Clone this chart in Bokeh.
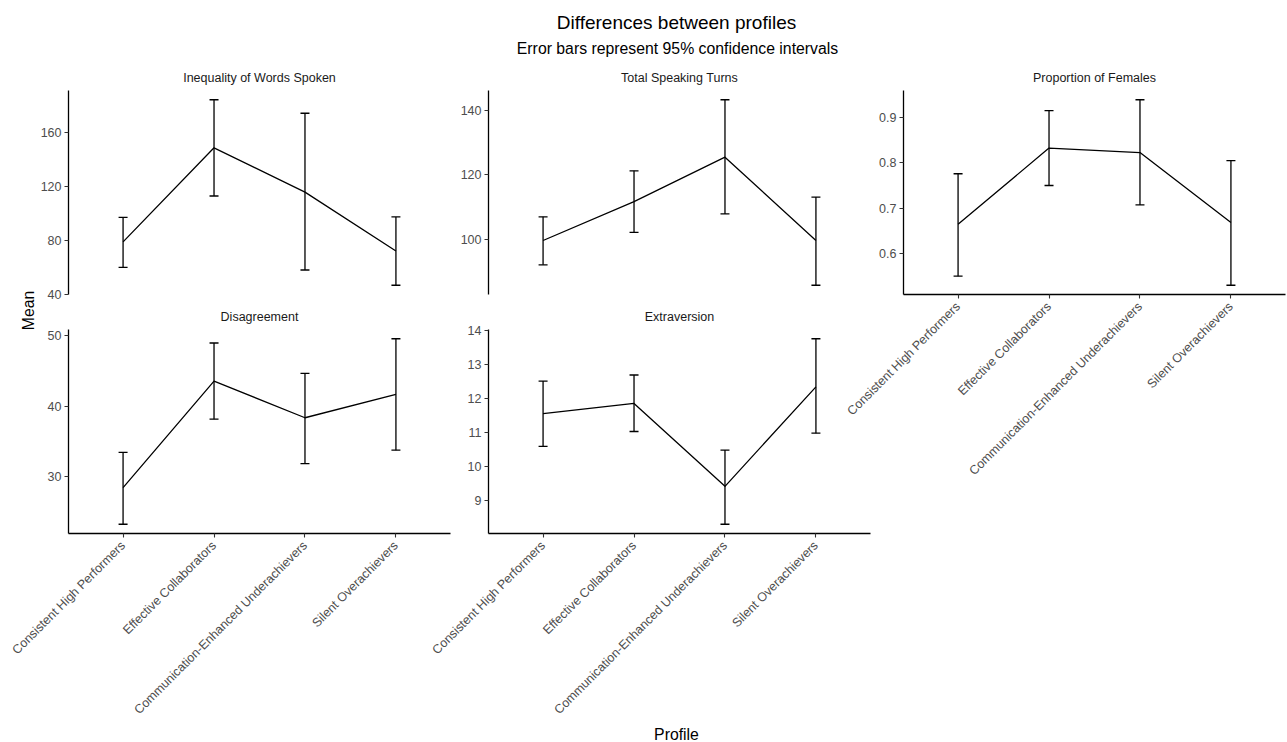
import math
from bokeh.plotting import figure
from bokeh.models import (ColumnDataSource, Whisker, TeeHead, FactorRange, Range1d,
                          FixedTicker, Label)
from bokeh.embed import file_html
from bokeh.resources import INLINE

# ---------------- data ----------------
profiles = ["Consistent High Performers", "Effective Collaborators",
            "Communication-Enhanced Underachievers", "Silent Overachievers"]

panel_titles = ["Inequality of Words Spoken", "Total Speaking Turns", "Proportion of Females",
                "Disagreement", "Extraversion"]

ineq_mean = [78.7, 148.4, 115.6, 71.9]
ineq_lower = [59.8, 112.7, 57.9, 46.6]
ineq_upper = [96.8, 184.0, 174.0, 97.2]
ineq_ticks = [40, 80, 120, 160]

turns_mean = [99.8, 111.8, 125.5, 99.8]
turns_lower = [92.3, 102.3, 108.0, 86.0]
turns_upper = [107.1, 121.3, 143.2, 113.2]
turns_ticks = [100, 120, 140]

fem_mean = [0.664, 0.833, 0.823, 0.668]
fem_lower = [0.549, 0.750, 0.707, 0.529]
fem_upper = [0.776, 0.916, 0.940, 0.805]
fem_ticks = [0.6, 0.7, 0.8, 0.9]

dis_mean = [28.5, 43.6, 38.4, 41.7]
dis_lower = [23.3, 38.2, 31.9, 33.8]
dis_upper = [33.5, 49.0, 44.7, 49.6]
dis_ticks = [30, 40, 50]

ext_mean = [11.56, 11.86, 9.41, 12.35]
ext_lower = [10.59, 11.03, 8.29, 10.98]
ext_upper = [12.52, 12.70, 10.48, 13.77]
ext_ticks = [9, 10, 11, 12, 13, 14]

main_title = "Differences between profiles"
sub_title = "Error bars represent 95% confidence intervals"
y_title = "Mean"
x_title = "Profile"

# ---------------- layout ----------------
W, H = 1287, 742
FONT = "Liberation Sans"
LW = 1.3
POS = {"position": "absolute", "left": "0px", "top": "0px"}

# frame geometry (left, top, width, height) in canvas pixels
geoms = [
    (68, 90, 382, 204),
    (488, 90, 382, 204),
    (903, 90, 382, 204),
    (68, 329, 382, 204),
    (488, 329, 382, 204),
]
STRIP_GAP = 13  # distance from strip text centre to the panel top


def panel(mean, lower, upper, ticks, geom, show_x):
    x0, y0, fw, fh = geom
    lo, hi = min(lower), max(upper)
    pad = 0.05 * (hi - lo)
    p = figure(width=W, height=H, output_backend="svg", toolbar_location=None,
               x_range=FactorRange(factors=profiles, range_padding=0.1,
                                   range_padding_units="absolute"),
               y_range=Range1d(lo - pad, hi + pad),
               min_border_left=x0, min_border_top=y0,
               min_border_right=W - x0 - fw, min_border_bottom=H - y0 - fh,
               border_fill_color=None, background_fill_color=None,
               outline_line_color=None, styles=POS)
    p.grid.visible = False
    src = ColumnDataSource(dict(profile=profiles, mean=mean, lower=lower, upper=upper))
    p.add_layout(Whisker(source=src, base="profile", upper="upper", lower="lower",
                         line_color="black", line_width=LW,
                         upper_head=TeeHead(size=9, line_color="black", line_width=LW),
                         lower_head=TeeHead(size=9, line_color="black", line_width=LW)))
    p.line(x="profile", y="mean", source=src, line_color="black", line_width=LW,
           line_join="round")

    ya = p.yaxis[0]
    ya.ticker = FixedTicker(ticks=ticks)
    ya.minor_tick_line_color = None
    ya.major_tick_in = 0
    ya.major_tick_out = 4
    ya.major_tick_line_color = "#333333"
    ya.major_tick_line_width = 1.1
    ya.axis_line_color = "black"
    ya.axis_line_width = LW
    ya.major_label_text_font = FONT
    ya.major_label_text_font_size = "12.5px"
    ya.major_label_text_color = "#4D4D4D"
    ya.major_label_standoff = 3

    xa = p.xaxis[0]
    if show_x:
        xa.major_tick_in = 0
        xa.major_tick_out = 4
        xa.major_tick_line_color = "#333333"
        xa.major_tick_line_width = 1.1
        xa.axis_line_color = "black"
        xa.axis_line_width = LW
        xa.major_label_orientation = math.pi / 4
        xa.major_label_text_font = FONT
        xa.major_label_text_font_size = "12.5px"
        xa.major_label_text_color = "#4D4D4D"
        xa.major_label_standoff = 6
    else:
        xa.visible = False
    return p


p1 = panel(ineq_mean, ineq_lower, ineq_upper, ineq_ticks, geoms[0], False)
p2 = panel(turns_mean, turns_lower, turns_upper, turns_ticks, geoms[1], False)
p3 = panel(fem_mean, fem_lower, fem_upper, fem_ticks, geoms[2], True)
p4 = panel(dis_mean, dis_lower, dis_upper, dis_ticks, geoms[3], True)
p5 = panel(ext_mean, ext_lower, ext_upper, ext_ticks, geoms[4], True)

# background figure carrying the overall titles (pixel coordinate system)
bg = figure(width=W, height=H, output_backend="svg", toolbar_location=None,
            x_range=Range1d(0, W), y_range=Range1d(H, 0),
            x_axis_type=None, y_axis_type=None,
            min_border_left=0, min_border_right=0, min_border_top=0, min_border_bottom=0,
            border_fill_color="white", background_fill_color="white",
            outline_line_color=None, styles=POS)
bg.grid.visible = False
bg.add_layout(Label(x=676, y=22, text=main_title, text_align="center", text_baseline="middle",
                    text_font=FONT, text_font_size="19px", text_color="black"))
bg.add_layout(Label(x=677, y=48, text=sub_title, text_align="center", text_baseline="middle",
                    text_font=FONT, text_font_size="15.8px", text_color="black"))
bg.add_layout(Label(x=28, y=310, text=y_title, angle=math.pi / 2, text_align="center",
                    text_baseline="middle", text_font=FONT, text_font_size="15.8px",
                    text_color="black"))
bg.add_layout(Label(x=676, y=734, text=x_title, text_align="center", text_baseline="middle",
                    text_font=FONT, text_font_size="15.8px", text_color="black"))
for t, (x0, y0, fw, fh) in zip(panel_titles, geoms):
    bg.add_layout(Label(x=x0 + fw / 2, y=y0 - STRIP_GAP, text=t, text_align="center",
                        text_baseline="middle", text_font=FONT, text_font_size="12.5px",
                        text_color="#1A1A1A"))

p = [bg, p1, p2, p3, p4, p5]
open("out.html", "w").write(file_html(p, INLINE))
